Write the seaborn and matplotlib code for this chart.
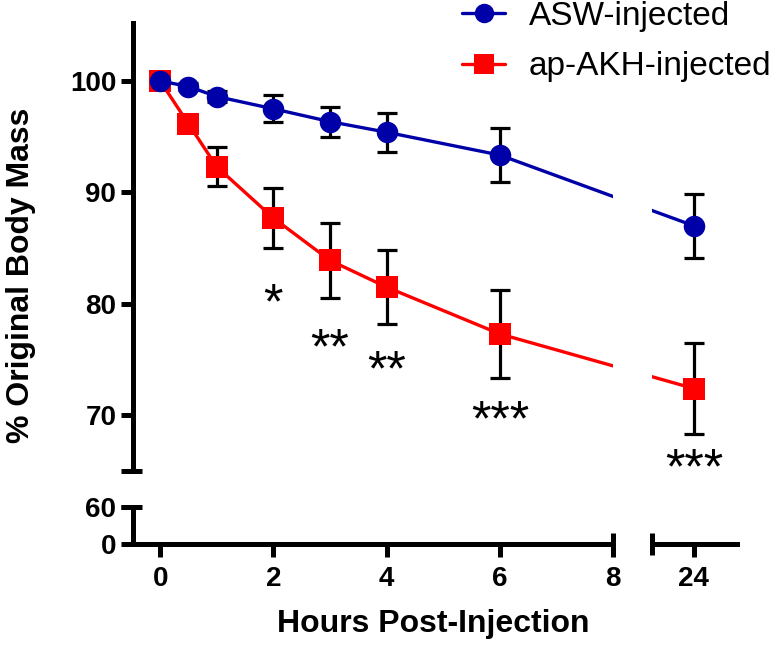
import matplotlib
matplotlib.use('Agg')
import matplotlib.pyplot as plt
from matplotlib.lines import Line2D
import numpy as np
import pandas as pd
import seaborn as sns

# ---------------- data ----------------
hours = [0, 0.5, 1, 2, 3, 4, 6, 24]
groups = ['ASW-injected', 'ap-AKH-injected']
asw_mean = [100.0, 99.5, 98.6, 97.5, 96.35, 95.4, 93.35, 87.0]
asw_sem = [0.0, 0.3, 0.5, 1.2, 1.35, 1.75, 2.45, 2.9]
akh_mean = [100.0, 96.15, 92.3, 87.7, 83.9, 81.5, 77.3, 72.4]
akh_sem = [0.0, 0.6, 1.75, 2.7, 3.35, 3.3, 3.95, 4.05]
sig_hours = [2, 3, 4, 6, 24]
sig_marks = ['*', '**', '**', '***', '***']
sig_y = [81.3, 77.3, 75.3, 70.8, 66.5]
left_xticks = [0, 2, 4, 6, 8]
right_xticks = [24]
upper_yticks = [70, 80, 90, 100]
lower_yticks = [0, 60]

colors = {'ASW-injected': '#0000A8', 'ap-AKH-injected': '#FF0000'}
markers = {'ASW-injected': 'o', 'ap-AKH-injected': 's'}

# broken x axis: hour 24 is drawn just right of the break
BREAK_POS = 9.42
def xpos(h):
    return h if h <= 8 else h - 24 + BREAK_POS

df = pd.DataFrame({
    'hour': hours * 2,
    'mean': asw_mean + akh_mean,
    'sem': asw_sem + akh_sem,
    'group': [groups[0]] * len(hours) + [groups[1]] * len(hours),
})
df['pos'] = df['hour'].map(xpos)

# ---------------- style ----------------
sns.set_style('ticks')
plt.rcParams['font.family'] = ['Liberation Sans', 'DejaVu Sans']
plt.rcParams.update({
    'axes.linewidth': 3.6,
    'axes.edgecolor': 'black',
    'text.color': 'black',
    'axes.labelcolor': 'black',
    'xtick.color': 'black',
    'ytick.color': 'black',
    'xtick.labelcolor': 'black',
    'ytick.labelcolor': 'black',
})

W, H = 778, 645
fig = plt.figure(figsize=(W / 100, H / 100), dpi=100)
def fx(px): return px / W
def fy(py): return 1 - py / H

L0, L1 = 133, 613
R0, R1 = 652, 737
UT, UB = 23, 471
LT, LB = 507, 544
ax_ul = fig.add_axes([fx(L0), fy(UB), fx(L1) - fx(L0), fy(UT) - fy(UB)])
ax_ll = fig.add_axes([fx(L0), fy(LB), fx(L1) - fx(L0), fy(LT) - fy(LB)])
ax_ur = fig.add_axes([fx(R0), fy(UB), fx(R1) - fx(R0), fy(UT) - fy(UB)])
ax_lr = fig.add_axes([fx(R0), fy(LB), fx(R1) - fx(R0), fy(LT) - fy(LB)])

xl_left = (-0.48, 8.0)
xl_right = (8.68, 10.18)
yl_up = (65, 105.2)
yl_low = (0, 60)

for ax in (ax_ul, ax_ur):
    for g in groups:
        sub = df[df['group'] == g]
        ax.errorbar(sub['pos'], sub['mean'], yerr=sub['sem'], fmt='none',
                    ecolor='black', elinewidth=2.3, capsize=7.5, capthick=2.3,
                    zorder=1.5)
    sns.lineplot(data=df, x='pos', y='mean', hue='group', style='group',
                 hue_order=[groups[1], groups[0]], style_order=[groups[1], groups[0]],
                 palette=colors, markers=markers, dashes=False, markersize=15.5,
                 markeredgewidth=0, linewidth=2.4, legend=False, ax=ax,
                 errorbar=None, zorder=2)
    ax.set_ylim(*yl_up)
    ax.set_xlabel('')
    ax.set_ylabel('')
    ax.patch.set_alpha(0)

ax_ul.set_xlim(*xl_left)
ax_ur.set_xlim(*xl_right)
ax_ll.set_xlim(*xl_left)
ax_lr.set_xlim(*xl_right)
ax_ll.set_ylim(*yl_low)
ax_lr.set_ylim(*yl_low)

tick_kw = dict(width=3.6, length=9, labelsize=20, pad=3, color='black',
               labelcolor='black')
# upper-left: only left spine
for s in ('top', 'right', 'bottom'):
    ax_ul.spines[s].set_visible(False)
ax_ul.set_yticks(upper_yticks)
ax_ul.set_xticks([])
ax_ul.tick_params(axis='y', **tick_kw)
# lower-left
for s in ('top', 'right'):
    ax_ll.spines[s].set_visible(False)
ax_ll.set_yticks(lower_yticks)
ax_ll.set_xticks(left_xticks)
ax_ll.set_xticklabels([str(t) for t in left_xticks])
ax_ll.tick_params(axis='y', **tick_kw)
ax_ll.tick_params(axis='x', width=3.6, length=9, labelsize=20, pad=7,
                  color='black', labelcolor='black')
# upper-right: nothing
for s in ax_ur.spines.values():
    s.set_visible(False)
ax_ur.set_xticks([])
ax_ur.set_yticks([])
# lower-right: bottom spine only
for s in ('top', 'right', 'left'):
    ax_lr.spines[s].set_visible(False)
ax_lr.set_yticks([])
ax_lr.set_xticks([xpos(t) for t in right_xticks])
ax_lr.set_xticklabels([str(t) for t in right_xticks])
ax_lr.tick_params(axis='x', width=3.6, length=9, labelsize=20, pad=7,
                  color='black', labelcolor='black')
ax_ll.patch.set_alpha(0)
ax_lr.patch.set_alpha(0)

for ax in (ax_ul, ax_ll, ax_lr):
    for lab in ax.get_xticklabels() + ax.get_yticklabels():
        lab.set_fontweight('bold')

# break caps
def seg(x0, y0, x1, y1):
    fig.add_artist(Line2D([fx(x0), fx(x1)], [fy(y0), fy(y1)], color='black',
                          lw=3.6, solid_capstyle='butt', transform=fig.transFigure))
seg(121, UB, 142, UB)
seg(121, LT, 142, LT)
seg(L1, LB - 11, L1, LB + 11)
seg(R0, LB - 11, R0, LB + 11)

# significance marks
for h, m, yv in zip(sig_hours, sig_marks, sig_y):
    ax = ax_ul if h <= 8 else ax_ur
    ax.annotate(m, (xpos(h), yv), xytext=(0, -21), textcoords='offset points',
                ha='center', va='baseline', fontsize=36, color='black')

# axis labels
fig.text(fx(21), fy(275), '% Original Body Mass', rotation=90, ha='center',
         va='center', fontsize=23, fontweight='bold', color='black')
fig.text(fx(433), fy(632), 'Hours Post-Injection', ha='center', va='baseline',
         fontsize=23, fontweight='bold', color='black')

# legend
handles = [Line2D([], [], color=colors[g], marker=markers[g], markersize=14,
                  markeredgewidth=0, lw=2.4) for g in groups]
fig.legend(handles, groups, loc='upper left', bbox_to_anchor=(fx(462), fy(1)),
           frameon=False, fontsize=24, handlelength=1.3, handletextpad=0.7,
           labelspacing=0.58, borderpad=0, borderaxespad=0)

fig.savefig('out.png', dpi=100)
